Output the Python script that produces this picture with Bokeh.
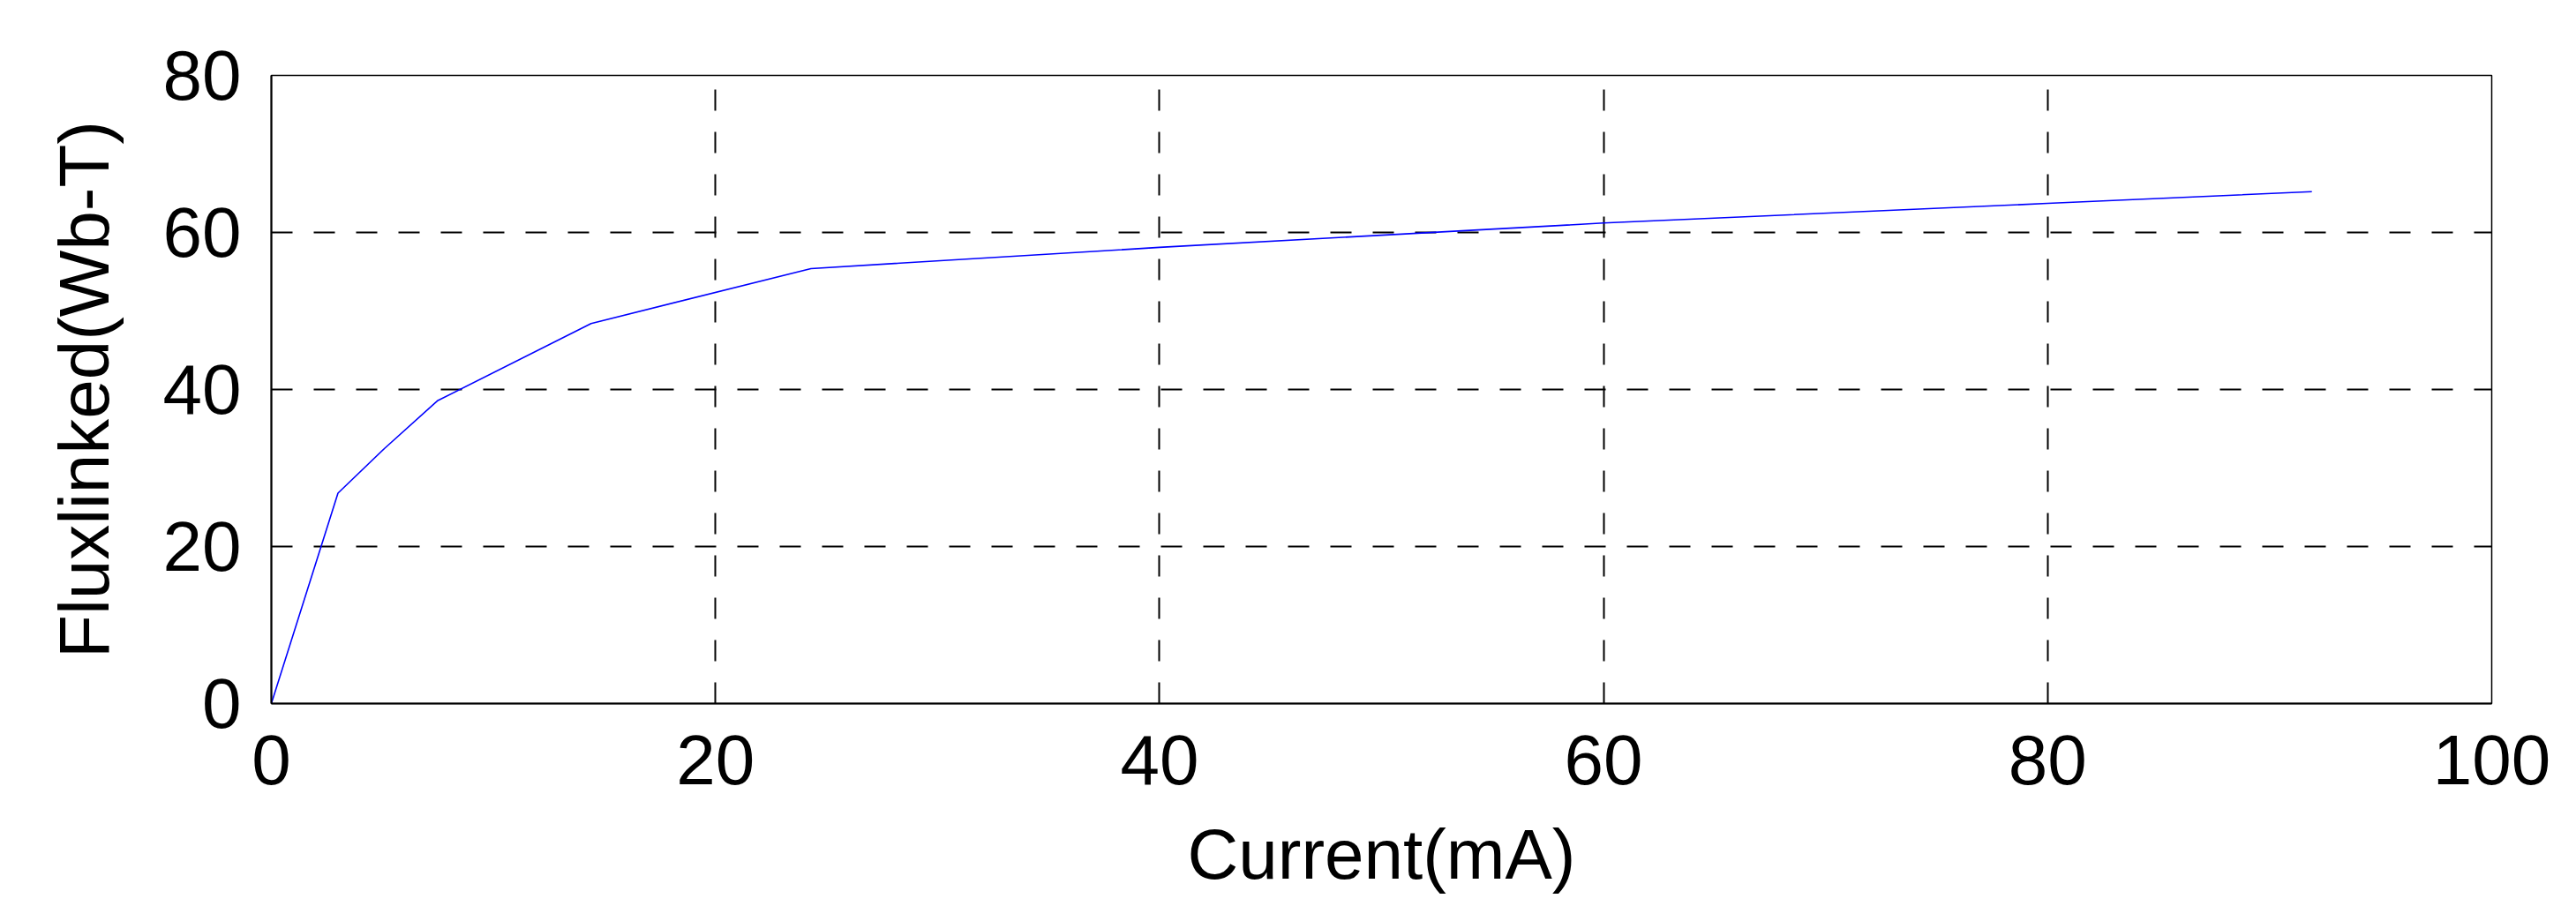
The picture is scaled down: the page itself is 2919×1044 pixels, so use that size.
from bokeh.plotting import figure
from bokeh.models import Range1d, FixedTicker
from bokeh.embed import file_html
from bokeh.resources import INLINE

# Data
current_mA = [0, 3.0, 5.1, 7.5, 14.4, 24.3, 40.0, 60.0, 80.0, 91.9]
flux_linked = [0, 26.8, 32.5, 38.6, 48.4, 55.4, 58.1, 61.2, 63.7, 65.2]

x_ticks = [0, 20, 40, 60, 80, 100]
y_ticks = [0, 20, 40, 60, 80]

FONT = "Liberation Sans"
FS = "80px"

p = figure(width=2903, height=1028, output_backend="svg", toolbar_location=None,
           x_range=Range1d(0, 100), y_range=Range1d(0, 80),
           min_border_left=307, min_border_right=80, min_border_top=85, min_border_bottom=231)

p.line(current_mA, flux_linked, line_color="#0000FF", line_width=1.6)

p.xaxis.ticker = FixedTicker(ticks=x_ticks)
p.yaxis.ticker = FixedTicker(ticks=y_ticks)

for ax in (p.xaxis, p.yaxis):
    ax.major_label_text_font = FONT
    ax.major_label_text_font_size = FS
    ax.major_label_text_color = "black"
    ax.axis_label_text_font = FONT
    ax.axis_label_text_font_size = FS
    ax.axis_label_text_font_style = "normal"
    ax.axis_label_text_color = "black"
    ax.major_tick_line_color = None
    ax.minor_tick_line_color = None
    ax.axis_line_color = "black"
    ax.axis_line_width = 2

p.xaxis.axis_label = "Current(mA)"
p.yaxis.axis_label = "Fluxlinked(Wb-T)"
p.xaxis.major_label_standoff = 30
p.xaxis.axis_label_standoff = 32
p.yaxis.major_label_standoff = 28
p.yaxis.axis_label_standoff = 42

p.outline_line_color = "black"
p.outline_line_width = 1.5
p.outline_line_alpha = 1

for g in (p.xgrid, p.ygrid):
    g.grid_line_color = "black"
    g.grid_line_width = 2
    g.grid_line_alpha = 1
    g.grid_line_dash = "24 24"

p.background_fill_color = "white"
p.border_fill_color = "white"

open("out.html", "w").write(file_html(p, INLINE))
